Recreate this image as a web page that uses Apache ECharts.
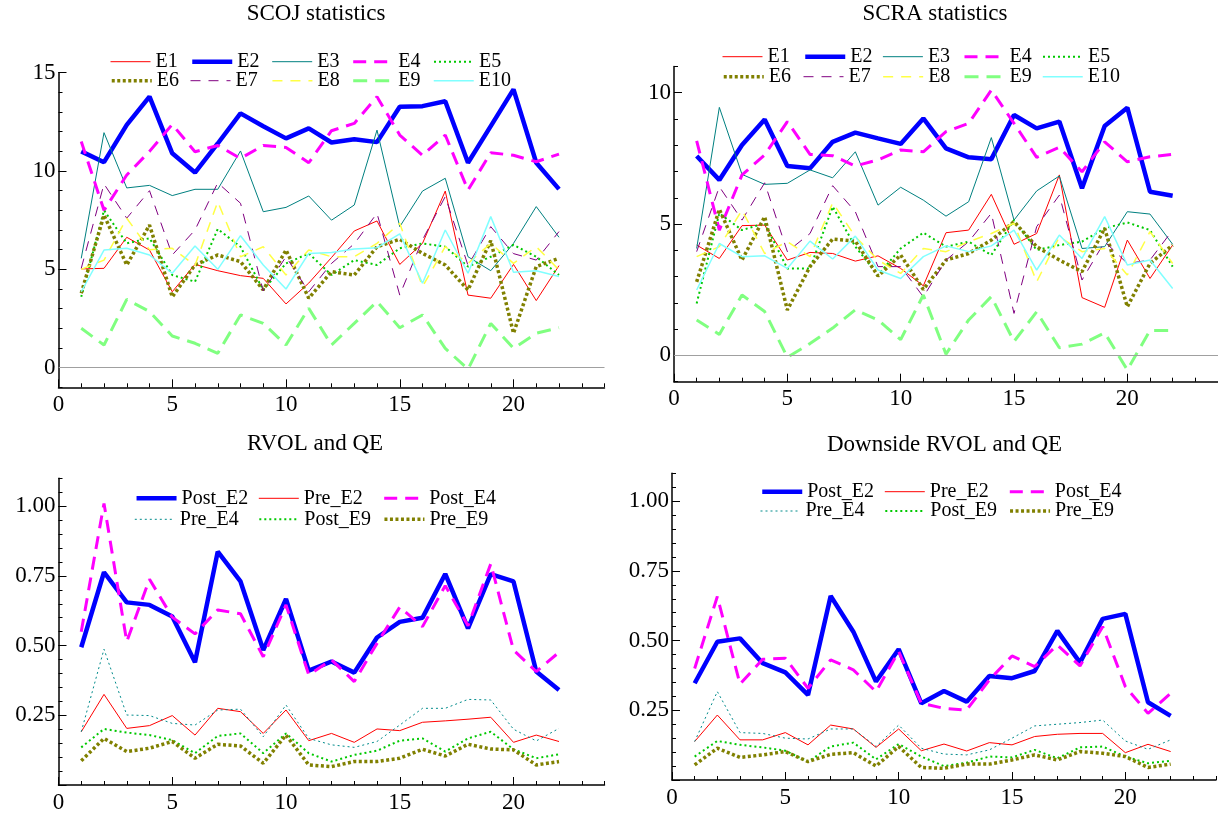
<!DOCTYPE html>
<html><head><meta charset="utf-8">
<script src="https://cdn.jsdelivr.net/npm/echarts@6/dist/echarts.min.js"></script>
<style>html,body{margin:0;padding:0;background:#fff}#c{width:1218px;height:814px}</style>
</head><body><div id="c"></div>
<script>
// ---------- data ----------
const xValues = [1,2,3,4,5,6,7,8,9,10,11,12,13,14,15,16,17,18,19,20,21,22];
const xTickLabels = [0,5,10,15,20];

const panelTitles = ['SCOJ statistics','SCRA statistics','RVOL and QE','Downside RVOL and QE'];
const eNames = ['E1','E2','E3','E4','E5','E6','E7','E8','E9','E10'];
const qeNames = ['Post_E2','Pre_E2','Post_E4','Pre_E4','Post_E9','Pre_E9'];

const scoj_E1 = [5.02,5.05,6.63,5.98,3.86,5.25,4.93,4.68,4.54,3.24,4.3,5.6,6.95,7.46,5.25,6.32,8.98,3.69,3.53,5.25,3.41,5.19];
const scoj_E2 = [11.0,10.45,12.35,13.78,10.9,9.92,11.4,12.93,12.28,11.66,12.17,11.45,11.62,11.47,13.27,13.3,13.55,10.42,12.28,14.15,10.42,9.08];
const scoj_E3 = [5.56,11.95,9.14,9.27,8.75,9.07,9.07,11.02,7.93,8.15,8.73,7.5,8.27,12.08,7.17,8.98,9.63,5.64,4.93,6.32,8.19,6.63];
const scoj_E4 = [11.5,8.0,9.8,11.0,12.37,10.98,11.3,10.64,11.3,11.2,10.42,12.05,12.42,13.78,11.83,10.8,11.83,9.03,10.93,10.8,10.47,10.86];
const scoj_E5 = [3.6,8.0,6.32,6.58,4.71,4.37,7.05,6.15,3.95,5.3,5.81,4.71,5.47,5.22,6.07,6.32,6.15,5.14,5.64,6.24,5.64,4.71];
const scoj_E6 = [3.78,7.76,5.22,7.25,3.6,5.22,5.73,5.39,3.95,5.98,3.53,4.88,4.71,6.15,6.53,5.81,5.22,3.95,6.46,1.75,5.14,5.56];
const scoj_E7 = [5.05,9.34,7.6,9.0,5.73,7.0,9.4,8.36,3.9,5.64,3.86,5.3,6.3,7.85,3.69,6.5,8.7,5.2,7.17,5.8,5.47,6.92];
const scoj_E8 = [5.0,5.47,7.6,6.0,6.07,5.2,8.44,5.64,6.15,4.71,5.98,5.64,5.64,6.32,7.34,4.12,6.15,5.3,6.32,5.3,6.15,4.97];
const scoj_E9 = [2.0,1.15,3.47,2.85,1.61,1.24,0.73,2.68,2.25,1.15,3.02,1.15,2.25,3.36,2.03,2.68,0.98,-0.08,2.25,0.98,1.75,2.03];
const scoj_E10 = [3.86,5.98,6.07,5.73,4.8,6.19,5.0,6.71,5.22,4.0,5.81,5.85,6.03,6.1,6.8,4.29,7.0,4.8,7.68,4.85,4.93,4.63];

const scra_E1 = [4.2,3.69,4.94,4.96,3.63,3.92,3.88,3.59,3.79,3.31,2.65,4.67,4.77,6.13,4.23,4.64,6.87,2.2,1.83,4.39,2.93,4.2];
const scra_E2 = [7.59,6.68,8.01,8.98,7.21,7.12,8.13,8.48,8.26,8.05,9.02,7.88,7.54,7.47,9.15,8.64,8.9,6.36,8.73,9.43,6.23,6.08];
const scra_E3 = [4.07,9.44,6.89,6.51,6.55,7.06,6.76,7.75,5.72,6.4,5.91,5.3,5.85,8.29,5.15,6.26,6.83,4.07,4.14,5.47,5.38,4.23];
const scra_E4 = [8.17,4.77,6.87,7.63,8.9,7.65,7.6,7.21,7.44,7.82,7.75,8.52,8.83,10.1,8.83,7.54,7.92,6.99,8.13,7.37,7.56,7.65];
const scra_E5 = [1.98,5.41,4.77,5.03,3.31,3.31,5.66,4.14,3.06,4.07,4.67,4.14,4.33,3.82,5.15,4.01,4.2,4.33,4.84,5.06,4.77,3.38];
const scra_E6 = [2.8,5.56,3.63,5.28,1.73,3.38,4.43,4.35,3.02,3.82,2.51,3.63,3.88,4.39,5.09,4.14,3.63,3.19,4.84,1.85,3.5,4.2];
const scra_E7 = [3.95,6.42,5.15,6.57,3.95,4.64,6.46,5.47,3.38,3.38,2.23,3.63,4.33,5.41,1.6,4.9,6.1,2.87,4.33,3.5,3.63,4.77];
const scra_E8 = [3.76,4.14,5.53,3.88,4.33,3.76,5.81,4.52,3.63,3.12,4.07,3.95,4.33,4.64,5.03,2.8,4.52,3.95,4.07,3.06,4.71,3.5];
const scra_E9 = [1.35,0.8,2.3,1.67,-0.07,0.45,1.04,1.74,1.35,0.6,2.3,0.05,1.35,2.24,0.53,1.66,0.29,0.43,0.86,-0.55,0.95,0.95];
const scra_E10 = [2.49,4.26,3.76,3.79,3.31,4.35,3.67,4.54,3.25,2.93,3.76,4.17,3.95,4.17,4.77,3.25,4.58,3.69,5.28,3.44,3.63,2.55];

const rv_Post_E2 = [0.494,0.763,0.655,0.646,0.604,0.44,0.837,0.73,0.484,0.667,0.41,0.443,0.403,0.529,0.585,0.6,0.757,0.562,0.756,0.73,0.407,0.341];
const rv_Pre_E2 = [0.191,0.325,0.203,0.213,0.249,0.179,0.275,0.263,0.185,0.269,0.159,0.185,0.153,0.201,0.195,0.225,0.23,0.236,0.243,0.153,0.179,0.156];
const rv_Post_E4 = [0.55,1.01,0.514,0.738,0.602,0.542,0.628,0.614,0.46,0.646,0.395,0.449,0.371,0.508,0.638,0.568,0.715,0.571,0.793,0.484,0.407,0.476];
const rv_Pre_E4 = [0.191,0.487,0.251,0.249,0.221,0.215,0.269,0.272,0.173,0.287,0.167,0.144,0.135,0.156,0.215,0.275,0.275,0.307,0.305,0.2,0.158,0.203];
const rv_Post_E9 = [0.135,0.201,0.188,0.179,0.161,0.114,0.176,0.185,0.114,0.185,0.114,0.084,0.108,0.123,0.159,0.167,0.12,0.167,0.191,0.128,0.096,0.11];
const rv_Pre_E9 = [0.087,0.167,0.12,0.132,0.156,0.096,0.146,0.14,0.078,0.179,0.072,0.066,0.084,0.084,0.096,0.128,0.104,0.146,0.129,0.126,0.072,0.084];

const dr_Post_E2 = [0.347,0.496,0.508,0.419,0.386,0.305,0.66,0.532,0.353,0.469,0.275,0.319,0.281,0.373,0.365,0.391,0.535,0.421,0.578,0.596,0.279,0.23];
const dr_Pre_E2 = [0.138,0.233,0.144,0.144,0.17,0.126,0.197,0.183,0.117,0.183,0.105,0.129,0.104,0.134,0.126,0.156,0.164,0.167,0.167,0.098,0.128,0.102];
const dr_Post_E4 = [0.4,0.658,0.344,0.433,0.437,0.329,0.431,0.395,0.317,0.461,0.275,0.257,0.251,0.359,0.445,0.407,0.484,0.409,0.55,0.335,0.239,0.311];
const dr_Pre_E4 = [0.138,0.317,0.17,0.167,0.15,0.147,0.183,0.183,0.12,0.197,0.114,0.093,0.09,0.108,0.15,0.194,0.2,0.206,0.215,0.14,0.11,0.144];
const dr_Post_E9 = [0.084,0.14,0.126,0.117,0.105,0.066,0.12,0.134,0.074,0.129,0.084,0.05,0.062,0.084,0.081,0.108,0.078,0.117,0.12,0.084,0.06,0.069];
const dr_Pre_E9 = [0.054,0.114,0.081,0.09,0.102,0.066,0.092,0.098,0.05,0.12,0.045,0.042,0.057,0.057,0.072,0.09,0.072,0.102,0.096,0.084,0.045,0.057];

const yTicksSC1 = [0,5,10,15];
const yTicksSC2 = [0,5,10];
const yTicksQE = [0.25,0.5,0.75,1.0];

// ---------- styles ----------
const FONT = '"Liberation Serif", "Times New Roman", serif';
const STY = {
  E1:{color:'#ff0000', width:1, type:'solid'},
  E2:{color:'#0000ff', width:4.5, type:'solid'},
  E3:{color:'#008080', width:1, type:'solid'},
  E4:{color:'#ff00ff', width:3, type:[13,8]},
  E5:{color:'#00c800', width:2, type:[2,3]},
  E6:{color:'#808000', width:3.5, type:[3,2.5]},
  E7:{color:'#800080', width:1, type:[10,8]},
  E8:{color:'#ffff44', width:1.5, type:[10,8]},
  E9:{color:'#80ff80', width:3, type:[14,8]},
  E10:{color:'#80ffff', width:1.5, type:'solid'}
};
STY.Post_E2 = STY.E2; STY.Pre_E2 = STY.E1; STY.Post_E4 = STY.E4;
STY.Pre_E4 = {color:'#008b8b', width:1, type:[2,3]};
STY.Post_E9 = STY.E5; STY.Pre_E9 = STY.E6;

const panels = [
  {title:panelTitles[0], tx:316, ty:14, grid:{left:58.5, top:72.7, width:546, height:314.6},
   ymin:-1, ymax:15, yint:1, ylab:yTicksSC1, ymaj:yTicksSC1, zero:true, names:eNames,
   data:[scoj_E1,scoj_E2,scoj_E3,scoj_E4,scoj_E5,scoj_E6,scoj_E7,scoj_E8,scoj_E9,scoj_E10],
   cols:5, colX:[110,190,271.7,351.7,433], rowY:[61.7,80.7], fmt:v=>String(v)},
  {title:panelTitles[1], tx:935, ty:14, grid:{left:674, top:66.4, width:544, height:315.3},
   ymin:-1, ymax:11, yint:1, ylab:yTicksSC2, ymaj:yTicksSC2, zero:true, names:eNames,
   data:[scra_E1,scra_E2,scra_E3,scra_E4,scra_E5,scra_E6,scra_E7,scra_E8,scra_E9,scra_E10],
   cols:5, colX:[722,803,882.4,963,1042], rowY:[56.7,76.7], fmt:v=>String(v)},
  {title:panelTitles[2], tx:315, ty:443.5, grid:{left:58.5, top:478.3, width:546, height:306.7},
   ymin:0, ymax:1.1, yint:0.05, ylab:yTicksQE, ymaj:[0].concat(yTicksQE), zero:false, names:qeNames,
   data:[rv_Post_E2,rv_Pre_E2,rv_Post_E4,rv_Pre_E4,rv_Post_E9,rv_Pre_E9],
   cols:3, colX:[134.3,258.3,382.7], rowY:[498.3,519.3], fmt:v=>v.toFixed(2)},
  {title:panelTitles[3], tx:944.5, ty:445, grid:{left:672, top:473.3, width:544, height:306.7},
   ymin:0, ymax:1.1, yint:0.05, ylab:yTicksQE, ymaj:[0].concat(yTicksQE), zero:false, names:qeNames,
   data:[dr_Post_E2,dr_Pre_E2,dr_Post_E4,dr_Pre_E4,dr_Post_E9,dr_Pre_E9],
   cols:3, colX:[760,884.3,1008.3], rowY:[491.7,511], fmt:v=>v.toFixed(2)}
];

const grids=[], xAxes=[], yAxes=[], series=[], legends=[], graphics=[];
const axisTxt = {fontFamily:FONT, fontSize:23, color:'#000'};

panels.forEach((p,k)=>{
  grids.push(Object.assign({containLabel:false}, p.grid));
  xAxes.push({type:'value', gridIndex:k, position:'bottom', min:0, max:24, interval:1,
    axisLine:{show:true, onZero:false, lineStyle:{color:'#000', width:1.5}},
    axisTick:{show:true, inside:true, length:4, lineStyle:{color:'#000', width:1}},
    axisLabel:Object.assign({show:true, customValues:xTickLabels, margin:6}, axisTxt),
    splitLine:{show:false}});
  xAxes.push({type:'value', gridIndex:k, position:'bottom', min:0, max:24, interval:1,
    axisLine:{show:false, onZero:false},
    axisTick:{show:true, inside:true, length:8, customValues:xTickLabels, lineStyle:{color:'#000', width:1}},
    axisLabel:{show:false}, splitLine:{show:false}});
  yAxes.push({type:'value', gridIndex:k, position:'left', min:p.ymin, max:p.ymax, interval:p.yint,
    axisLine:{show:true, onZero:false, lineStyle:{color:'#000', width:1.5}},
    axisTick:{show:true, inside:true, length:4, lineStyle:{color:'#000', width:1}},
    axisLabel:Object.assign({show:true, customValues:p.ylab, margin:3, formatter:p.fmt}, axisTxt),
    splitLine:{show:false}});
  yAxes.push({type:'value', gridIndex:k, position:'left', min:p.ymin, max:p.ymax, interval:p.yint,
    axisLine:{show:false, onZero:false},
    axisTick:{show:true, inside:true, length:8, customValues:p.ymaj, lineStyle:{color:'#000', width:1}},
    axisLabel:{show:false}, splitLine:{show:false}});

  p.names.forEach((nm,i)=>{
    const s = STY[nm];
    const ser = {name:nm, type:'line', xAxisIndex:2*k, yAxisIndex:2*k, symbol:'none', showSymbol:false,
      animation:false, silent:true,
      lineStyle:{color:s.color, width:s.width, type:s.type},
      itemStyle:{color:s.color},
      data:xValues.map((x,j)=>[x, p.data[i][j]])};
    if (p.zero && i===0) {
      ser.markLine = {silent:true, symbol:['none','none'], animation:false, label:{show:false},
        lineStyle:{color:'#a0a0a0', width:1.2, type:'solid'}, data:[{yAxis:0}]};
    }
    series.push(ser);
    const row = Math.floor(i/p.cols), col = i % p.cols;
    legends.push({data:[nm], left:p.colX[col], top:p.rowY[row]-10, padding:0, orient:'horizontal',
      itemWidth:40, itemHeight:14, selectedMode:false,
      textStyle:{fontFamily:FONT, fontSize:20, color:'#000', lineHeight:20},
      lineStyle:{width:s.width}, itemStyle:{opacity:0}});
  });

  graphics.push({type:'text', x:p.tx, y:p.ty, silent:true,
    style:{text:p.title, fontFamily:FONT, fontSize:23, fill:'#000', align:'center', verticalAlign:'middle'}});
});

const chart = echarts.init(document.getElementById('c'), null, {renderer:'canvas'});
chart.setOption({
  backgroundColor:'#fff',
  animation:false,
  grid:grids, xAxis:xAxes, yAxis:yAxes, series:series, legend:legends, graphic:graphics
});
</script>
</body></html>
